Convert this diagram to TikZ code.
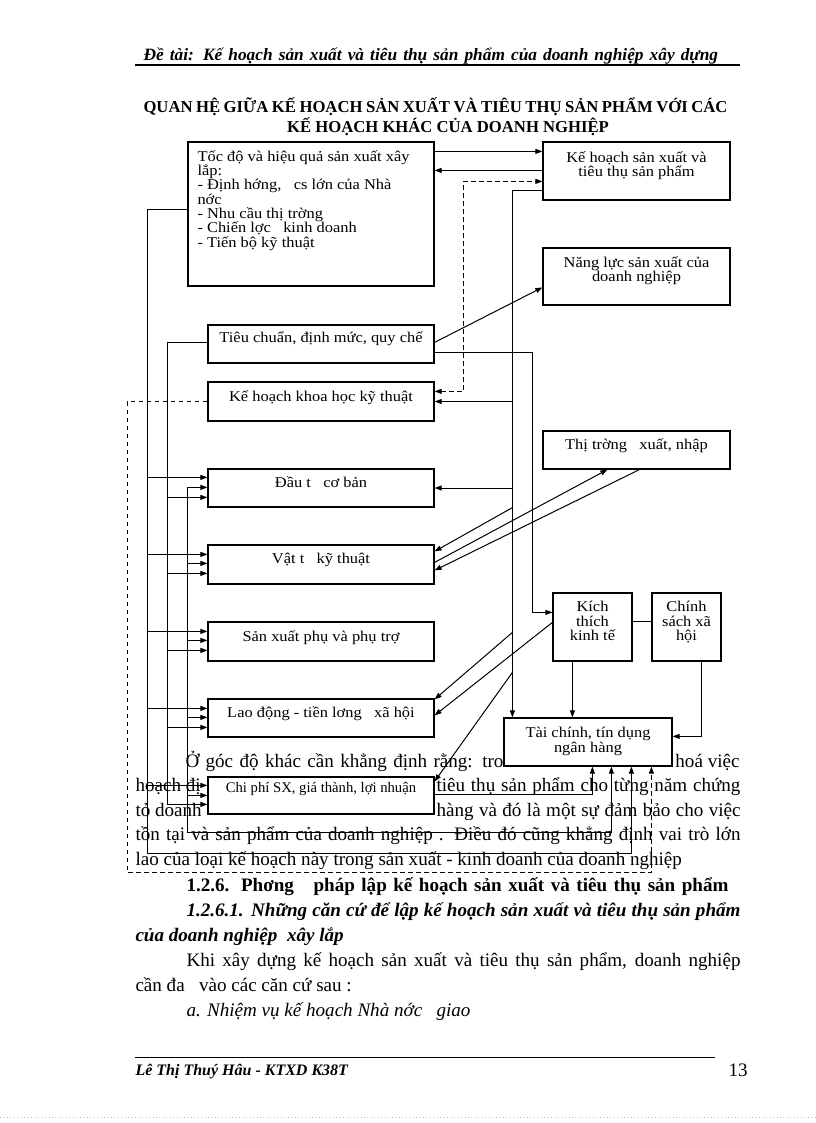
\documentclass[tikz,border=0pt]{standalone}
\usepackage{fontspec}
\setmainfont{Liberation Serif}
\newfontfamily\boxfont[FakeStretch=1.1]{Liberation Serif}
\usetikzlibrary{arrows.meta,calc,fit}
\setlength{\lineskiplimit}{-50pt}
\setlength{\lineskip}{0pt}
\begin{document}
\begin{tikzpicture}[x=0.75pt,y=-0.75pt,
  line width=0.75pt,
  box/.style={draw, fill=white, inner sep=0pt, line width=0.9pt},
  btxt/.style={font=\boxfont\fontsize{11.2pt}{10.75pt}\selectfont, inner sep=0pt, align=center, anchor=north},
  btxts/.style={btxt, font=\fontsize{11pt}{10.75pt}\selectfont},
  arr/.style={-{Triangle[length=5.25pt,width=3.75pt]}},
  dsh/.style={dash pattern=on 3.5pt off 2.5pt},
  body/.style={font=\fontsize{14.3pt}{18pt}\selectfont, inner sep=0pt, anchor=base west},
  bodyb/.style={body, font=\fontsize{14.3pt}{18pt}\selectfont\bfseries},
  bodybi/.style={body, font=\fontsize{14.3pt}{18pt}\selectfont\bfseries\itshape},
  bodyi/.style={body, font=\fontsize{14.3pt}{18pt}\selectfont\itshape}]
\useasboundingbox (0,0) rectangle (816,1123);
\fill[white] (0,0) rectangle (816,1123);

% header
\node[inner sep=0pt, anchor=base west, font=\fontsize{13pt}{15pt}\selectfont\bfseries\itshape] (hdr) at (143,61) {\makebox[431pt][s]{Đề tài: Kế hoạch sản xuất và tiêu thụ sản phẩm của doanh nghiệp xây dựng}};
\coordinate (hl1) at (135,65);
\coordinate (hl2) at (740,65);
\draw[line width=0.8pt] (hl1) -- (hl2);

% title
\node[inner sep=0pt, anchor=base west, font=\fontsize{12.5pt}{14pt}\selectfont\bfseries] (t1) at (143,113) {\makebox[438pt][s]{QUAN HỆ GIỮA KẾ HOẠCH SẢN XUẤT VÀ TIÊU THỤ SẢN PHẨM VỚI CÁC}};
\node[inner sep=0pt, anchor=base, font=\fontsize{12.5pt}{14pt}\selectfont\bfseries] (t2) at (448,133) {KẾ HOẠCH KHÁC CỦA DOANH NGHIỆP};

% body text (under the diagram)
\node[body] (p1a) at (185,767) {\makebox[238.5pt][s]{Ở góc độ khác cần khẳng định rằng: tro}};
\node[body, anchor=base east] (p1b) at (740,767) {hoá việc};
\node[body] (p2a) at (135,791) {hoạch đị};
\node[body] (p2b) at (436,791) {\makebox[228pt][s]{tiêu thụ sản phẩm cho từng năm chứng}};
\node[body] (p3a) at (135,816) {tỏ doanh};
\node[body] (p3b) at (436,816) {\makebox[228pt][s]{hàng và đó là một sự đảm bảo cho việc}};
\node[body] (p4) at (135,840) {\makebox[453.75pt][s]{tồn tại và sản phẩm của doanh nghiệp . Điều đó cũng khẳng định vai trò lớn}};
\node[body] (p5) at (135,865) {lao của loại kế hoạch này trong sản xuất - kinh doanh của doanh nghiệp};

\node[bodyb] (s1) at (186,891) {\makebox[406.5pt][s]{1.2.6. Phơng\ \ \ pháp lập kế hoạch sản xuất và tiêu thụ sản phẩm}};
\node[bodybi] (s2) at (186,916) {\makebox[415.5pt][s]{1.2.6.1. Những căn cứ để lập kế hoạch sản xuất và tiêu thụ sản phẩm}};
\node[bodybi] (s3) at (135,941) {của doanh nghiệp\ \ xây lắp};
\node[body] (s4) at (186,966) {\makebox[415.5pt][s]{Khi xây dựng kế hoạch sản xuất và tiêu thụ sản phẩm, doanh nghiệp}};
\node[body] (s5) at (135,991) {cần đa\ \ \ vào các căn cứ sau :};
\node[bodyi] (s6) at (186,1016) {a. Nhiệm vụ kế hoạch Nhà nớc\ \ \ giao};

% footer
\coordinate (fl1) at (135,1057);
\coordinate (fl2) at (715,1057);
\draw[line width=0.6pt] (fl1) -- (fl2);
\node[inner sep=0pt, anchor=base west, font=\fontsize{12pt}{14pt}\selectfont\bfseries\itshape] (ft) at (135,1075) {Lê Thị Thuý Hâu - KTXD K38T};
\node[body] (pg) at (728,1076) {13};
\coordinate (dl1) at (0,1117);
\coordinate (dl2) at (816,1117);
\draw[gray!50, dotted, line width=0.6pt] (dl1) -- (dl2);

% boxes
\node[box, fit={(188,142)(434,286)}] (A) {};
\node[box, fit={(543,142)(730,200)}] (B) {};
\node[box, fit={(543,248)(730,305)}] (C) {};
\node[box, fit={(208,325)(434,363)}] (D) {};
\node[box, fit={(208,382)(434,421)}] (E) {};
\node[box, fit={(543,431)(730,469)}] (F) {};
\node[box, fit={(208,469)(434,507)}] (G) {};
\node[box, fit={(208,545)(434,584)}] (H) {};
\node[box, fit={(208,622)(434,661)}] (I) {};
\node[box, fit={(208,699)(434,737)}] (J) {};
\node[box, fit={(208,777)(434,814)}] (K) {};
\node[box, fit={(553,593)(632,661)}] (L) {};
\node[box, fit={(652,593)(721,661)}] (M) {};
\node[box, fit={(504,718)(672,766)}] (N) {};

% box texts
\node[btxt, align=left, anchor=north west] (At) at (197,150) {Tốc độ và hiệu quả sản xuất xây\\lắp:\\- Định hớng,\ \ \ cs lớn của Nhà\\nớc\\- Nhu cầu thị trờng\\- Chiến lợc\ \ \ kinh doanh\\- Tiến bộ kỹ thuật};
\node[btxt] (Bt) at (636.5,151) {Kế hoạch sản xuất và\\tiêu thụ sản phẩm};
\node[btxt] (Ct) at (636.5,256) {Năng lực sản xuất của\\doanh nghiệp};
\node[btxt] (Dt) at (321,331) {Tiêu chuẩn, định mức, quy chế};
\node[btxt] (Et) at (321,390) {Kế hoạch khoa học kỹ thuật};
\node[btxt] (Ft) at (636.5,438) {Thị trờng\ \ \ xuất, nhập};
\node[btxt] (Gt) at (321,476) {Đầu t\ \ \ cơ bản};
\node[btxt] (Ht) at (321,553) {Vật t\ \ \ kỹ thuật};
\node[btxt] (It) at (321,630) {Sản xuất phụ và phụ trợ};
\node[btxt] (Jt) at (321,706) {Lao động - tiền lơng\ \ \ xã hội};
\node[btxts] (Kt) at (321,782) {Chi phí SX, giá thành, lợi nhuận};
\node[btxt] (Lt) at (592.5,601) {Kích\\thích\\kinh tế};
\node[btxt] (Mt) at (686.5,601) {Chính\\sách xã\\hội};
\node[btxt] (Nt) at (588,727) {Tài chính, tín dụng\\ngân hàng};

% connectors, top and right
\draw[arr] ($(A.north east)+(0,10)$) -- ($(B.north west)+(0,10)$);
\draw[arr] ($(B.north west)+(0,29)$) -- ($(A.north east)+(0,29)$);
\draw[dsh,{Triangle[length=5.25pt,width=3.75pt]}-{Triangle[length=5.25pt,width=3.75pt]}] ($(E.north east)+(0,10)$) -- ++(29,0) |- ($(B.north west)+(0,40)$);
\coordinate (v) at ($(N.north west)+(9,0)$);
\draw[arr] ($(B.north west)+(0,49)$) -| (v);
\draw[arr] (v |- E.east) -- (E.east);
\draw[arr] (v |- G.east) -- (G.east);
\draw[arr] (v |- G.south) -- ($(H.north east)+(0,7)$);
\draw[arr] ($(v |- I.north)+(0,11)$) -- ($(J.north east)+(0,1)$);
\draw[arr] ($(v |- J.north)+(0,-26)$) -- ($(K.north east)+(0,5)$);
\draw[arr] ($(D.north east)+(0,18)$) -- ($(C.north west)+(0,40)$);
\draw[arr] ($(D.north east)+(0,28)$) -| ($(L.north west)+(-20,20)$) -- ($(L.north west)+(0,20)$);
\draw[arr] ($(H.north east)+(0,18)$) -- ($(F.south west)+(65,0)$);
\draw[arr] ($(F.south west)+(97,0)$) -- ($(H.north east)+(0,26)$);
\draw[arr] ($(L.north west)+(0,30)$) -- ($(J.north east)+(0,17)$);
\coordinate (lb) at ($(L.south west)+(20,0)$);
\draw[arr] (lb) -- (lb |- N.north);
\draw ($(L.north east)+(0,29)$) -- ($(M.north west)+(0,29)$);
\draw[arr] ($(M.south west)+(50,0)$) |- ($(N.north east)+(0,19)$);

% connectors, left side
\draw[arr] ($(A.north west)+(0,68)$) -| ($(K.south west)+(-60,39)$) -| ($(N.south west)+(128,0)$);
\foreach \b/\o in {G/9,H/10,I/10,J/10,K/9}
  \draw[arr] ($(\b.north west)+(-60,\o)$) -- ($(\b.north west)+(0,\o)$);
\draw[arr] ($(D.north west)+(0,18)$) -| ($(K.north west)+(-40,28)$) -- ($(K.north west)+(0,28)$);
\foreach \b in {G,H,I,J}
  \draw[arr] ($(\b.north west)+(-40,29)$) -- ($(\b.north west)+(0,29)$);
\draw[arr] ($(G.north west)+(-20,19)$) |- ($(N.south west)+(108,66)$) -- ($(N.south west)+(108,0)$);
\foreach \b in {G,H,I,J,K}
  \draw[arr] ($(\b.north west)+(-20,19)$) -- ($(\b.north west)+(0,19)$);
\draw[arr] ($(K.north east)+(0,18)$) -| ($(N.south west)+(89,0)$);
\draw[dsh,arr] (E.west) -| ($(K.south west)+(-80,58)$) -| ($(N.south west)+(148,0)$);
\end{tikzpicture}
\end{document}
